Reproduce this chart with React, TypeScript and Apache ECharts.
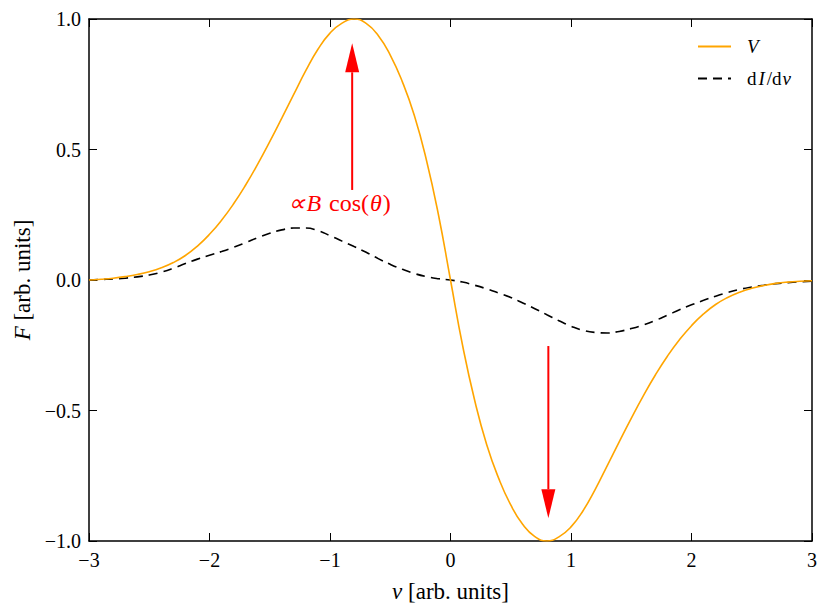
import React, { useEffect, useRef } from "react";
import * as echarts from "echarts";

const xValues = [
  -3.0, -2.9, -2.8, -2.7, -2.6, -2.5, -2.4, -2.3, -2.2, -2.1,
  -2.0, -1.9, -1.8, -1.7, -1.6, -1.5, -1.4, -1.3, -1.2, -1.1,
  -1.0, -0.9, -0.8, -0.7, -0.6, -0.5, -0.4, -0.3, -0.2, -0.1,
  0.0, 0.1, 0.2, 0.3, 0.4, 0.5, 0.6, 0.7, 0.8, 0.9,
  1.0, 1.1, 1.2, 1.3, 1.4, 1.5, 1.6, 1.7, 1.8, 1.9,
  2.0, 2.1, 2.2, 2.3, 2.4, 2.5, 2.6, 2.7, 2.8, 2.9, 3.0,
];

const vValues = [
  0.0, 0.003, 0.007, 0.013, 0.021, 0.032, 0.047, 0.067, 0.094, 0.13,
  0.175, 0.229, 0.292, 0.364, 0.444, 0.53, 0.62, 0.712, 0.803, 0.884,
  0.946, 0.984, 1.0, 0.983, 0.937, 0.862, 0.76, 0.63, 0.46, 0.25,
  0.0, -0.25, -0.46, -0.63, -0.76, -0.862, -0.937, -0.983, -1.0, -0.984,
  -0.946, -0.884, -0.803, -0.712, -0.62, -0.53, -0.444, -0.364, -0.292, -0.229,
  -0.175, -0.13, -0.094, -0.067, -0.047, -0.032, -0.021, -0.013, -0.008, -0.005, -0.003,
];

const dIValues = [
  0.0, 0.002, 0.004, 0.007, 0.012, 0.019, 0.03, 0.045, 0.063, 0.08,
  0.095, 0.109, 0.125, 0.143, 0.162, 0.179, 0.192, 0.199, 0.199, 0.189,
  0.17, 0.149, 0.128, 0.106, 0.082, 0.06, 0.041, 0.025, 0.013, 0.005,
  0.0, -0.008, -0.02, -0.034, -0.05, -0.067, -0.088, -0.11, -0.133, -0.156,
  -0.177, -0.193, -0.201, -0.203, -0.197, -0.186, -0.172, -0.155, -0.135, -0.114,
  -0.095, -0.078, -0.062, -0.048, -0.036, -0.027, -0.02, -0.014, -0.01, -0.007, -0.005,
];

const seriesNames = ["V", "dI/dν"];

// annotation arrows (data coordinates)
const arrowUp = { x: -0.816, from: 0.345, to: 0.907 };
const arrowDown = { x: 0.812, from: -0.253, to: -0.913 };
const annotationText = { x: -0.92, y: 0.295 };

const SERIF = "Liberation Serif";
const minus = (s: string) => s.replace("-", "\u2212");

export default function App() {
  const ref = useRef<HTMLDivElement>(null);

  useEffect(() => {
    if (!ref.current) return;
    const chart = echarts.init(ref.current, null, { renderer: "svg" });

    const axisCommon = {
      type: "value" as const,
      axisLine: { show: true, onZero: false, lineStyle: { color: "#000", width: 1.5 } },
      axisTick: { show: true, inside: true, length: 8, lineStyle: { color: "#000", width: 1 } },
      splitLine: { show: false },
    };

    const nameStyle = {
      fontFamily: SERIF,
      fontSize: 23,
      color: "#000",
      rich: {
        i: { fontFamily: SERIF, fontSize: 23, fontStyle: "italic", color: "#000" },
        n: { fontFamily: SERIF, fontSize: 23, color: "#000" },
      },
    };

    const LF = 19;

    chart.setOption({
      animation: false,
      backgroundColor: "#fff",
      textStyle: { fontFamily: SERIF },
      grid: { left: 89, right: 18, top: 19, bottom: 72, containLabel: false },
      legend: {
        orient: "vertical",
        left: 692,
        top: 32,
        itemWidth: 33,
        itemHeight: 18,
        itemGap: 13,
        data: seriesNames,
        itemStyle: { color: "rgba(0,0,0,0)", borderWidth: 0, opacity: 0 },
        formatter: (name: string) =>
          name === "V" ? "{g|}{i|V}" : "{g|}{n|d}{I|I}{n|/d}{v|ν}",
        textStyle: {
          fontFamily: SERIF,
          fontSize: LF,
          color: "#000",
          rich: {
            g: { width: 11, fontSize: LF },
            i: { fontFamily: SERIF, fontSize: LF, fontStyle: "italic", color: "#000" },
            I: { fontFamily: SERIF, fontSize: LF, fontStyle: "italic", color: "#000", padding: [0, 2, 0, 2] },
            v: { fontFamily: SERIF, fontSize: LF, fontStyle: "italic", color: "#000", padding: [0, 0, 0, 1] },
            n: { fontFamily: SERIF, fontSize: LF, color: "#000" },
          },
        },
      },
      xAxis: [
        {
          ...axisCommon,
          min: -3,
          max: 3,
          interval: 1,
          position: "bottom",
          name: "{i|ν} {n|[arb. units]}",
          nameLocation: "middle",
          nameGap: 39,
          nameTextStyle: nameStyle,
          axisLabel: {
            color: "#000",
            fontSize: 20,
            fontFamily: SERIF,
            margin: 9,
            formatter: (v: number) => minus(String(v)),
          },
        },
        {
          ...axisCommon,
          min: -3,
          max: 3,
          interval: 1,
          position: "top",
          axisLabel: { show: false },
        },
      ],
      yAxis: [
        {
          ...axisCommon,
          min: -1,
          max: 1,
          interval: 0.5,
          position: "left",
          name: "{i|F} {n|[arb. units]}",
          nameLocation: "middle",
          nameGap: 55,
          nameTextStyle: nameStyle,
          axisLabel: {
            color: "#000",
            fontSize: 20,
            fontFamily: SERIF,
            margin: 8,
            formatter: (v: number) => minus(v.toFixed(1)),
          },
        },
        {
          ...axisCommon,
          min: -1,
          max: 1,
          interval: 0.5,
          position: "right",
          axisLabel: { show: false },
        },
      ],
      series: [
        {
          name: seriesNames[0],
          type: "line",
          xAxisIndex: 0,
          yAxisIndex: 0,
          data: xValues.map((x, i) => [x, vValues[i]]),
          smooth: 0.5,
          symbol: "none",
          color: "#FFA500",
          lineStyle: { color: "#FFA500", width: 1.6 },
          z: 3,
        },
        {
          name: seriesNames[1],
          type: "line",
          xAxisIndex: 0,
          yAxisIndex: 0,
          data: xValues.map((x, i) => [x, dIValues[i]]),
          smooth: 0.5,
          symbol: "none",
          color: "#000",
          lineStyle: { color: "#000", width: 1.6, type: [9, 6] },
          z: 2,
        },
      ],
    });

    const px = (x: number, y: number) =>
      chart.convertToPixel({ gridIndex: 0 }, [x, y]) as number[];

    const headLen = 29;
    const headHalf = 7;
    const makeArrow = (a: { x: number; from: number; to: number }) => {
      const p0 = px(a.x, a.from);
      const p1 = px(a.x, a.to);
      const dir = p1[1] < p0[1] ? -1 : 1; // -1 upward
      const baseY = p1[1] - dir * headLen;
      return [
        {
          type: "line",
          shape: { x1: p0[0], y1: p0[1], x2: p0[0], y2: baseY },
          style: { stroke: "#FF0000", lineWidth: 2 },
          z: 10,
        },
        {
          type: "polygon",
          shape: {
            points: [
              [p1[0], p1[1]],
              [p1[0] - headHalf, baseY],
              [p1[0] + headHalf, baseY],
            ],
          },
          style: { fill: "#FF0000" },
          z: 10,
        },
      ];
    };

    const tp = px(annotationText.x, annotationText.y);
    chart.setOption({
      graphic: [
        ...makeArrow(arrowUp),
        ...makeArrow(arrowDown),
        {
          type: "text",
          x: tp[0],
          y: tp[1],
          z: 10,
          style: {
            text: "{p|∝}{b|B}{n|cos(}{i|θ}{n|)}",
            align: "center",
            verticalAlign: "middle",
            fill: "#FF0000",
            fontFamily: SERIF,
            fontSize: 24,
            rich: {
              p: { fontFamily: SERIF, fontSize: 24, fontStyle: "italic", fill: "#FF0000", padding: [0, 1, 0, 0] },
              b: { fontFamily: SERIF, fontSize: 24, fontStyle: "italic", fill: "#FF0000", padding: [0, 8, 0, 0] },
              n: { fontFamily: SERIF, fontSize: 24, fill: "#FF0000" },
              i: { fontFamily: SERIF, fontSize: 24, fontStyle: "italic", fill: "#FF0000", padding: [0, 1, 0, 1] },
            },
          },
        },
      ],
    });

    return () => chart.dispose();
  }, []);

  return (
    <div
      ref={ref}
      style={{ position: "fixed", left: 0, top: 0, width: 830, height: 613, background: "#fff" }}
    />
  );
}
